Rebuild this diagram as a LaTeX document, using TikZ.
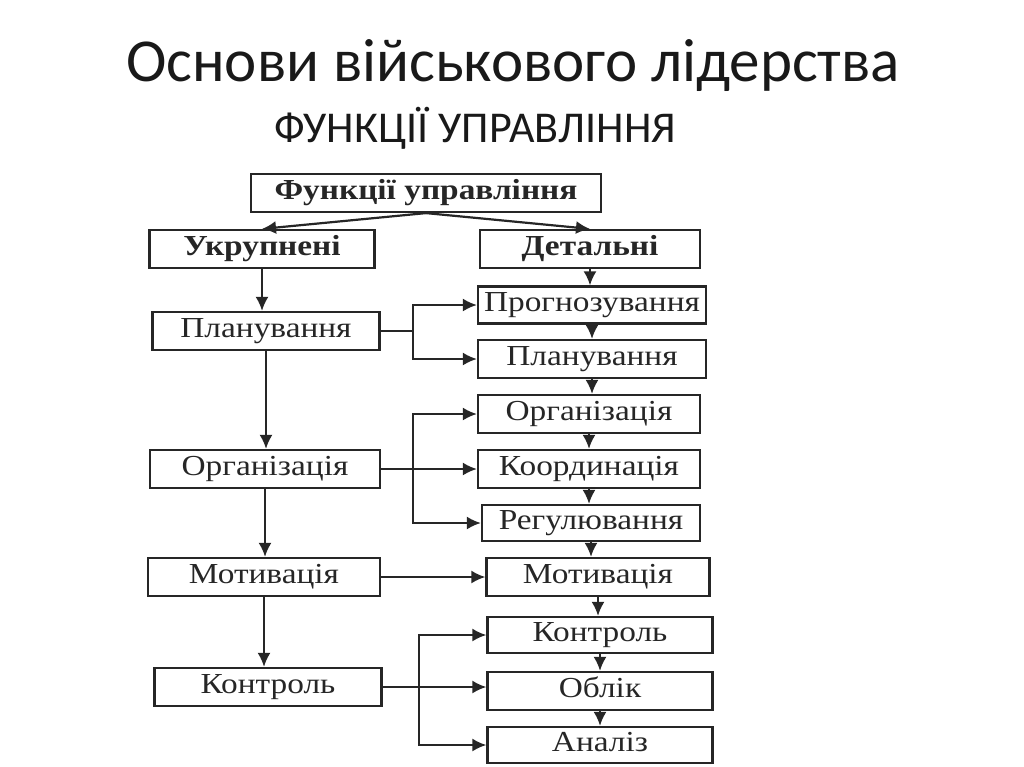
\documentclass[tikz,border=0pt]{standalone}
\usepackage{fontspec}
\setmainfont{Liberation Serif}
\newfontfamily\boxfont{Liberation Serif}[FakeStretch=1.15]
\newfontfamily\titlefont{Carlito}
\usetikzlibrary{positioning}
\usetikzlibrary{arrows.meta}
\usetikzlibrary{calc}

\begin{document}
\begin{tikzpicture}[x=1pt,y=-1pt,
	box/.style={draw=black!85,line width=2.2pt,rectangle,inner sep=0pt,minimum height=38pt,text height=20pt,text depth=6.5pt,text=black!85,font=\boxfont\fontsize{29}{32}\selectfont},
	head/.style={box,font=\boxfont\bfseries\fontsize{29}{32}\selectfont},
	link/.style={draw=black!85,line width=2.2pt,-{Latex[length=14pt,width=13pt]}},
	line/.style={draw=black!85,line width=2.2pt}]
	\useasboundingbox (0,0) rectangle (1024,767);
	\node[font=\titlefont\fontsize{61}{70}\selectfont,text=black!90,anchor=base] (title) at (513,82) {Основи військового лідерства};
	\node[font=\titlefont\fontsize{44}{50}\selectfont,text=black!90,anchor=base] (subtitle) at (475,143) {ФУНКЦІЇ УПРАВЛІННЯ};

	\node[head,minimum width=350pt] (funk) at (426,193) {Функції управління};
	\node[head,minimum width=225pt] (ukr) at (262,249) {Укрупнені};
	\node[head,minimum width=220pt] (det) at (590,249) {Детальні};

	\node[box,minimum width=227pt] (lplan) at (266,331) {Планування};
	\node[box,minimum width=230pt] (lorg) at (265,469) {Організація};
	\node[box,minimum width=232pt] (lmot) at (264,577) {Мотивація};
	\node[box,minimum width=227pt] (lkon) at (268,687) {Контроль};

	\node[box,minimum width=228pt,minimum height=37pt] (prog) at (592,305) {Прогнозування};
	\node[box,minimum width=228pt] (rplan) at (592,359) {Планування};
	\node[box,minimum width=222pt] (rorg) at (589,414) {Організація};
	\node[box,minimum width=222pt] (koord) at (589,469) {Координація};
	\node[box,minimum width=218pt,minimum height=36pt] (reg) at (591,523) {Регулювання};
	\node[box,minimum width=223pt] (rmot) at (598,577) {Мотивація};
	\node[box,minimum width=225pt,minimum height=36pt] (rkon) at (600,635) {Контроль};
	\node[box,minimum width=225pt] (oblik) at (600,691) {Облік};
	\node[box,minimum width=225pt,minimum height=36pt] (analiz) at (600,745) {Аналіз};

	\draw[link] (funk.south) -- (ukr.north);
	\draw[link] (funk.south) -- (det.north);

	\draw[link] (ukr.south) -- (ukr.south |- lplan.north);
	\draw[link] (lplan.south) -- (lplan.south |- lorg.north);
	\draw[link] (lorg.south) -- (lorg.south |- lmot.north);
	\draw[link] (lmot.south) -- (lmot.south |- lkon.north);

	\draw[link] (det.south) -- (det.south |- prog.north);
	\draw[link] (prog.south) -- (prog.south |- rplan.north);
	\draw[link] (rplan.south) -- (rplan.south |- rorg.north);
	\draw[link] (rorg.south) -- (rorg.south |- koord.north);
	\draw[link] (koord.south) -- (koord.south |- reg.north);
	\draw[link] (reg.south) -- (reg.south |- rmot.north);
	\draw[link] (rmot.south) -- (rmot.south |- rkon.north);
	\draw[link] (rkon.south) -- (rkon.south |- oblik.north);
	\draw[link] (oblik.south) -- (oblik.south |- analiz.north);

	\coordinate (jplan) at ($(lplan.east)+(32,0)$);
	\draw[line] (lplan.east) -- (jplan);
	\draw[link] (jplan) |- (prog.west);
	\draw[link] (jplan) |- (rplan.west);

	\coordinate (jorg) at ($(lorg.east)+(32,0)$);
	\draw[link] (lorg.east) -- (koord.west |- lorg.east);
	\draw[link] (jorg) |- (rorg.west);
	\draw[link] (jorg) |- (reg.west);

	\draw[link] (lmot.east) -- (rmot.west |- lmot.east);

	\coordinate (jkon) at ($(lkon.east)+(36,0)$);
	\draw[link] (lkon.east) -- (oblik.west |- lkon.east);
	\draw[link] (jkon) |- (rkon.west);
	\draw[link] (jkon) |- (analiz.west);
\end{tikzpicture}
\end{document}
